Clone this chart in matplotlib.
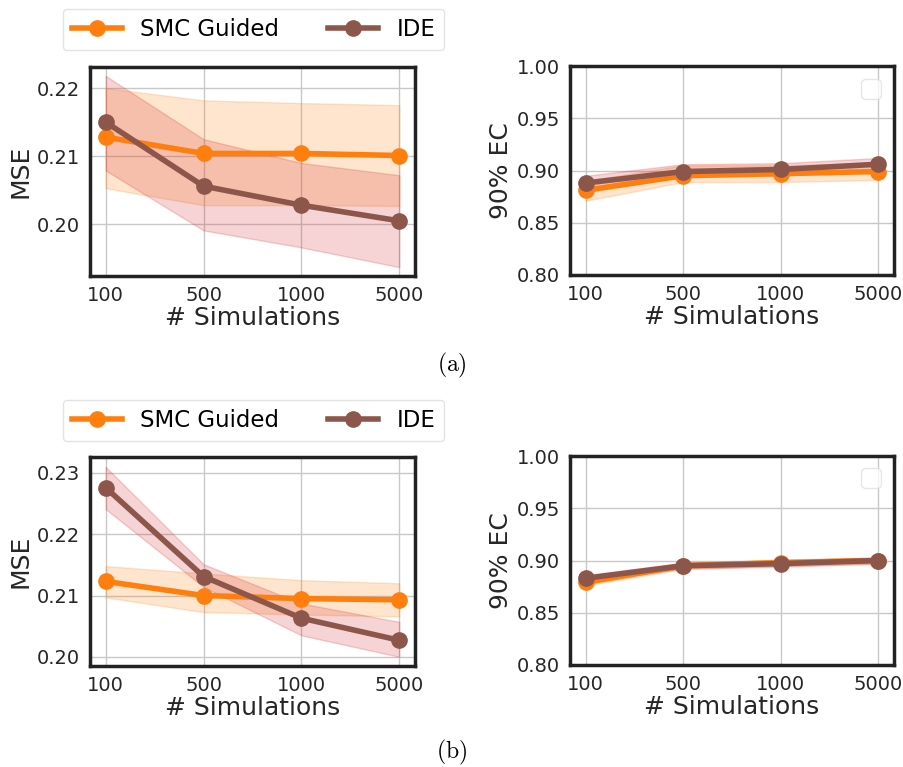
import matplotlib
matplotlib.use("Agg")
import matplotlib.pyplot as plt
import numpy as np

plt.rcParams['mathtext.fontset'] = 'cm'
plt.rcParams['font.family'] = ['DejaVu Sans']

sims = ["100", "500", "1000", "5000"]

# Panel (a)
a_mse_smc = [0.2128, 0.2104, 0.2104, 0.2101]
a_mse_smc_lo = [0.2053, 0.2028, 0.2028, 0.2027]
a_mse_smc_hi = [0.2200, 0.2182, 0.2178, 0.2175]
a_mse_ide = [0.2150, 0.2056, 0.2028, 0.2005]
a_mse_ide_lo = [0.2079, 0.1991, 0.1966, 0.1937]
a_mse_ide_hi = [0.2218, 0.2125, 0.2090, 0.2072]

a_ec_smc = [0.881, 0.895, 0.897, 0.899]
a_ec_smc_lo = [0.871, 0.889, 0.889, 0.891]
a_ec_smc_hi = [0.890, 0.905, 0.905, 0.907]
a_ec_ide = [0.888, 0.899, 0.901, 0.906]
a_ec_ide_lo = [0.881, 0.894, 0.895, 0.900]
a_ec_ide_hi = [0.895, 0.906, 0.907, 0.912]

# Panel (b)
b_mse_smc = [0.2123, 0.2100, 0.2095, 0.2093]
b_mse_smc_lo = [0.2097, 0.2073, 0.2069, 0.2066]
b_mse_smc_hi = [0.2148, 0.2136, 0.2125, 0.2120]
b_mse_ide = [0.2276, 0.2131, 0.2063, 0.2027]
b_mse_ide_lo = [0.2241, 0.2114, 0.2035, 0.2000]
b_mse_ide_hi = [0.2310, 0.2151, 0.2087, 0.2057]

b_ec_smc = [0.879, 0.895, 0.898, 0.900]
b_ec_smc_lo = [0.876, 0.892, 0.895, 0.897]
b_ec_smc_hi = [0.882, 0.898, 0.901, 0.903]
b_ec_ide = [0.883, 0.895, 0.897, 0.900]
b_ec_ide_lo = [0.880, 0.892, 0.894, 0.897]
b_ec_ide_hi = [0.886, 0.898, 0.900, 0.903]

SMC_COLOR = '#ff7f0e'
IDE_COLOR = '#8c564b'
SMC_FILL = '#ff7f0e'
IDE_FILL = '#d62728'

fig = plt.figure(figsize=(9.04, 7.67), dpi=100)

def style(ax):
    ax.set_facecolor('white')
    ax.grid(True, color='#c8c8c8', linewidth=1.0)
    ax.set_axisbelow(True)
    for s in ax.spines.values():
        s.set_color('#222222')
        s.set_linewidth(2.5)
    ax.tick_params(axis='both', labelsize=14, colors='#262626', length=0, pad=7)
    x = np.arange(len(sims))
    ax.set_xticks(x)
    ax.set_xticklabels(sims)
    ax.set_xlim(-0.16, 3.16)
    ax.set_xlabel('# Simulations', fontsize=18, color='#262626', labelpad=1)

def draw(ax, smc, smc_lo, smc_hi, ide, ide_lo, ide_hi, labels=True):
    x = np.arange(len(sims))
    ax.fill_between(x, smc_lo, smc_hi, color=SMC_FILL, alpha=0.2, lw=1)
    ax.fill_between(x, ide_lo, ide_hi, color=IDE_FILL, alpha=0.2, lw=1)
    l1, = ax.plot(x, smc, '-o', color=SMC_COLOR, lw=4, ms=11,
                  label='SMC Guided' if labels else '_nolegend_')
    l2, = ax.plot(x, ide, '-o', color=IDE_COLOR, lw=4, ms=11,
                  label='IDE' if labels else '_nolegend_')
    return l1, l2

W = 325 / 904
H = 209 / 767

for row, (data, ylims, yticks, cap, capy, legy) in enumerate([
    ((a_mse_smc, a_mse_smc_lo, a_mse_smc_hi, a_mse_ide, a_mse_ide_lo, a_mse_ide_hi,
      a_ec_smc, a_ec_smc_lo, a_ec_smc_hi, a_ec_ide, a_ec_ide_lo, a_ec_ide_hi),
     (0.1924, 0.2231), [0.20, 0.21, 0.22], r'$\mathrm{(a)}$', 1 - 365 / 767, 1 - 29.5 / 767),
    ((b_mse_smc, b_mse_smc_lo, b_mse_smc_hi, b_mse_ide, b_mse_ide_lo, b_mse_ide_hi,
      b_ec_smc, b_ec_smc_lo, b_ec_smc_hi, b_ec_ide, b_ec_ide_lo, b_ec_ide_hi),
     (0.1985, 0.2326), [0.20, 0.21, 0.22, 0.23], r'$\mathrm{(b)}$', 1 - 752 / 767, 1 - 420.5 / 767),
]):
    bottom = (767 - 276) / 767 if row == 0 else (767 - 666) / 767
    ax1 = fig.add_axes([90 / 904, bottom, W, H])
    style(ax1)
    l1, l2 = draw(ax1, *data[:6])
    ax1.set_ylim(*ylims)
    ax1.set_yticks(yticks)
    ax1.set_yticklabels([f'{v:.2f}' for v in yticks])
    ax1.set_ylabel('MSE', fontsize=18, color='#262626', labelpad=3)

    ax2 = fig.add_axes([570 / 904, bottom + 1 / 767, 324 / 904, H])
    style(ax2)
    draw(ax2, *data[6:], labels=False)
    ax2.set_ylim(0.80, 1.00)
    ec_ticks = [0.80, 0.85, 0.90, 0.95, 1.00]
    ax2.set_yticks(ec_ticks)
    ax2.set_yticklabels([f'{v:.2f}' for v in ec_ticks])
    ax2.set_ylabel('90% EC', fontsize=18, color='#262626', labelpad=3)
    ax2.legend(loc='upper right', frameon=True, edgecolor='#e0e0e0',
               fancybox=True, fontsize=18)

    fig.legend([l1, l2], ['SMC Guided', 'IDE'], loc='center',
               bbox_to_anchor=(253.5 / 904, legy), ncol=2, fontsize=16.5,
               frameon=True, fancybox=True, edgecolor='#dddddd',
               handlelength=2.2, columnspacing=2.1, borderpad=0.4)

    fig.text(0.5, capy, cap, ha='center', va='center', fontsize=17)

fig.savefig('out.png', dpi=100)
